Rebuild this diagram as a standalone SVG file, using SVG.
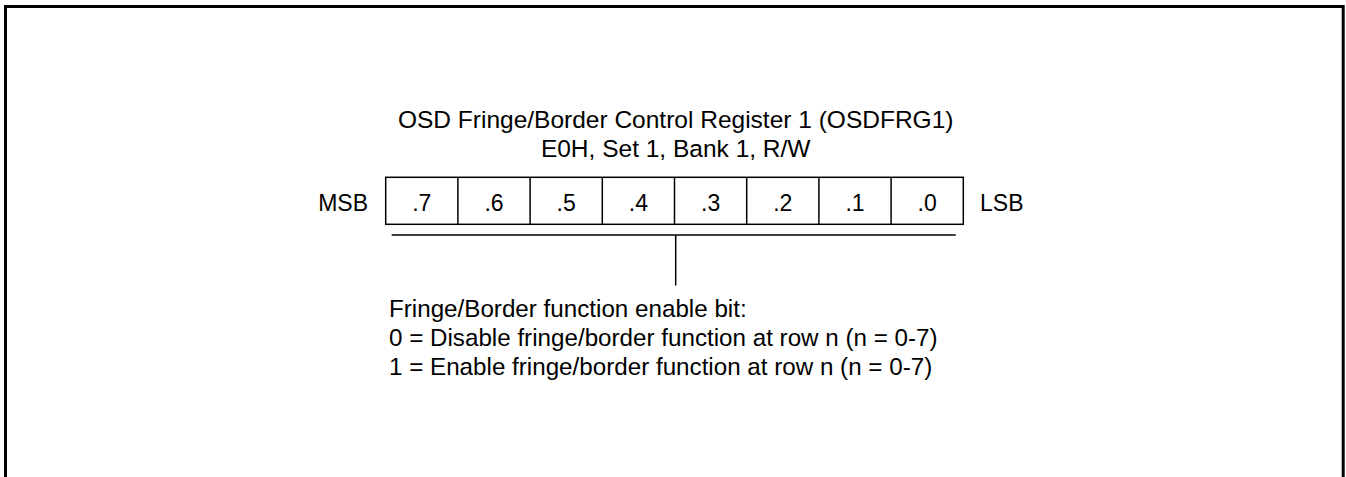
<svg xmlns="http://www.w3.org/2000/svg" width="1346" height="477" viewBox="0 0 1346 477">
<style>
text{font-family:"Liberation Sans",Arial,sans-serif;fill:#000}
.t{font-size:24.5px}
.d{font-size:24.2px}
.b{font-size:23px}
.c{fill:#fff;stroke:#000;stroke-width:1.5}
.l{stroke:#000;stroke-width:1.5;fill:none}
</style>
<rect width="1346" height="477" fill="#fff"/>
<path d="M5.5 477 V6.5 H1343.2 V477" fill="none" stroke="#000" stroke-width="3"/>
<g id="title">
<text class="t" x="675.7" y="127.5" text-anchor="middle">OSD Fringe/Border Control Register 1 (OSDFRG1)</text>
<text class="t" x="675.7" y="157" text-anchor="middle">E0H, Set 1, Bank 1, R/W</text>
</g>
<g id="msb"><text class="b" x="368" y="210.5" text-anchor="end">MSB</text></g>
<g id="lsb"><text class="b" x="980" y="210.5">LSB</text></g>
<g id="register">
<rect class="c" x="385.7" y="177.3" width="577.6" height="47"/>
<g class="l">
<line x1="457.9" y1="177.3" x2="457.9" y2="224.3"/>
<line x1="530.1" y1="177.3" x2="530.1" y2="224.3"/>
<line x1="602.3" y1="177.3" x2="602.3" y2="224.3"/>
<line x1="674.5" y1="177.3" x2="674.5" y2="224.3"/>
<line x1="746.7" y1="177.3" x2="746.7" y2="224.3"/>
<line x1="818.9" y1="177.3" x2="818.9" y2="224.3"/>
<line x1="891.1" y1="177.3" x2="891.1" y2="224.3"/>
</g>
<g class="b" text-anchor="middle">
<text x="421.8" y="210.5">.7</text>
<text x="494" y="210.5">.6</text>
<text x="566.2" y="210.5">.5</text>
<text x="638.4" y="210.5">.4</text>
<text x="710.6" y="210.5">.3</text>
<text x="782.8" y="210.5">.2</text>
<text x="855" y="210.5">.1</text>
<text x="927.2" y="210.5">.0</text>
</g>
</g>
<g id="connectors" class="l">
<line x1="391.7" y1="235" x2="955.8" y2="235"/>
<line x1="675.7" y1="235" x2="675.7" y2="285.5"/>
</g>
<g id="description">
<text class="d" x="389" y="317">Fringe/Border function enable bit:</text>
<text class="d" x="389" y="346">0 = Disable fringe/border function at row n (n = 0-7)</text>
<text class="d" x="389" y="375">1 = Enable fringe/border function at row n (n = 0-7)</text>
</g>
</svg>
